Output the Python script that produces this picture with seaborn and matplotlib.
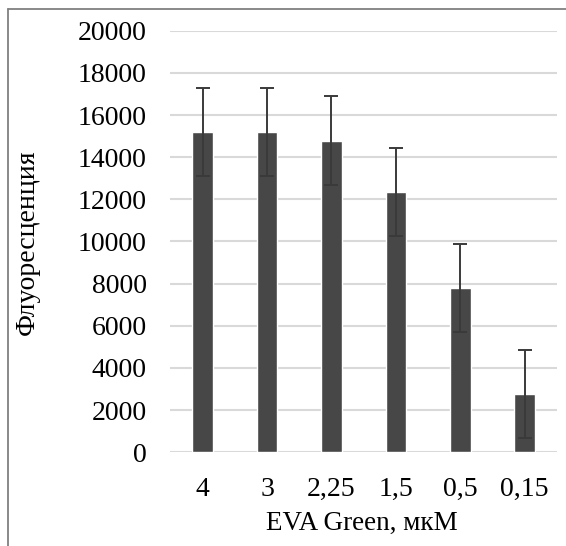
import matplotlib
matplotlib.use("Agg")
import matplotlib.pyplot as plt
import seaborn as sns
import pandas as pd
from matplotlib.lines import Line2D

categories = ["4", "3", "2,25", "1,5", "0,5", "0,15"]
values = [15200, 15200, 14780, 12350, 7780, 2780]
errors = [2100, 2100, 2100, 2080, 2080, 2090]
y_ticks = [0, 2000, 4000, 6000, 8000, 10000, 12000, 14000, 16000, 18000, 20000]

sns.set_theme(style="white")
plt.rcParams['font.family'] = ['Liberation Serif', 'DejaVu Serif']

df = pd.DataFrame({"conc": categories, "val": values})

fig = plt.figure(figsize=(5.66, 5.46), dpi=100)
ax = fig.add_axes([0.301, 0.1716, 0.683, 0.7722])

sns.barplot(data=df, x="conc", y="val", order=categories, color="#474747",
            saturation=1, width=0.32, errorbar=None, ax=ax, zorder=2)
ax.errorbar(range(len(categories)), values, yerr=errors, fmt="none",
            ecolor="#3a3a3a", elinewidth=1.4, capsize=5, capthick=1.4, zorder=3)

ax.set_ylim(0, 20000)
ax.set_xlim(-0.5, len(categories) - 0.5)
ax.set_yticks(y_ticks)
ax.set_yticklabels([str(t) for t in y_ticks])
ax.yaxis.grid(True, color="#d9d9d9", linewidth=1.5, zorder=0)
ax.set_axisbelow(True)
for s in ax.spines.values():
    s.set_visible(False)
ax.tick_params(axis="y", length=0, pad=17, labelsize=20, labelcolor="black")
ax.tick_params(axis="x", length=0, pad=18, labelsize=20, labelcolor="black")
ax.set_xlabel("")
ax.set_ylabel("")

fig.text(0.048, 0.557, "Флуоресценция", rotation=90, ha="center", va="center",
         fontsize=20, color="black")
fig.text(0.64, 0.042, "EVA Green, мкМ", ha="center", va="center",
         fontsize=19.5, color="black")

# outer frame (top and left)
fig.add_artist(Line2D([8 / 566, 1.0], [1 - 9 / 546, 1 - 9 / 546],
                      transform=fig.transFigure, color="#808080", linewidth=1.3))
fig.add_artist(Line2D([8 / 566, 8 / 566], [0.0, 1 - 9 / 546],
                      transform=fig.transFigure, color="#808080", linewidth=1.3))

fig.savefig("out.png", dpi=100, facecolor="white")
